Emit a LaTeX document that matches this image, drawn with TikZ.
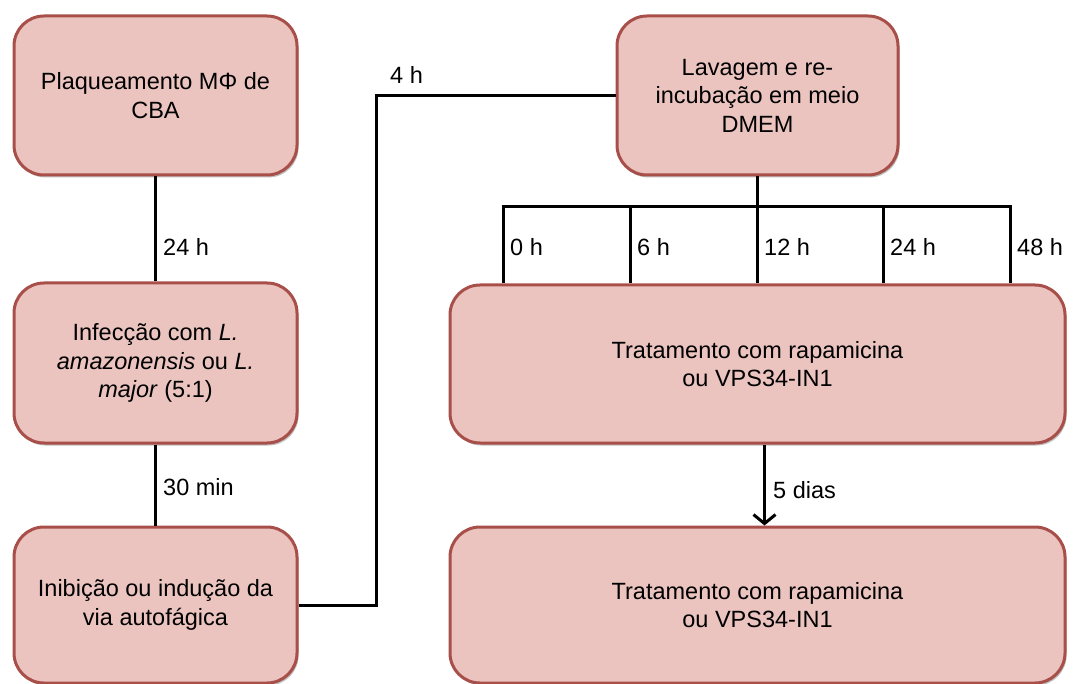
\documentclass[tikz,border=0pt]{standalone}
\usepackage{fontspec}
\setmainfont{Liberation Sans}
\usetikzlibrary{shadows,arrows.meta}
\definecolor{boxfill}{RGB}{235,196,192}
\definecolor{boxedge}{RGB}{168,79,73}
\begin{document}
\begin{tikzpicture}[x=1pt,y=-1pt,
  stepbox/.style={draw=boxedge, line width=3pt, fill=boxfill, rounded corners=30pt,
    align=center, inner sep=4pt,
    drop shadow={opacity=0.25, shadow xshift=1.5pt, shadow yshift=-2.5pt, fill=black}},
  txt/.style={font=\fontsize{23.5}{28.5}\selectfont},
  lbl/.style={txt, anchor=west, inner sep=0pt},
  link/.style={line width=3pt, black}]
\useasboundingbox (0,0) rectangle (1073,684);

% left column
\node[stepbox, txt, minimum width=283pt, minimum height=159pt] (b1) at (155.5,95.5)
  {Plaqueamento MΦ de\\CBA};
\node[stepbox, txt, minimum width=283pt, minimum height=160pt] (b2) at (155.5,363)
  {Infecção com \textit{L.}\\\textit{amazonensis} ou \textit{L.}\\\textit{major} (5:1)};
\node[stepbox, txt, minimum width=283pt, minimum height=156pt] (b3) at (155.5,605)
  {Inibição ou indução da\\via autofágica};

% right column
\node[stepbox, txt, minimum width=281pt, minimum height=159pt] (b4) at (757.5,95.5)
  {Lavagem e re-\\incubação em meio\\DMEM};
\node[stepbox, txt, minimum width=615pt, minimum height=158pt] (b5) at (757.5,364)
  {Tratamento com rapamicina\\ou VPS34-IN1};
\node[stepbox, txt, minimum width=615pt, minimum height=156pt] (b6) at (757.5,605)
  {Tratamento com rapamicina\\ou VPS34-IN1};

% connectors of the left column
\draw[link] (b1.south) -- (b2.north);
\node[lbl] (l24) at (163,247) {24 h};
\draw[link] (b2.south) -- (b3.north);
\node[lbl] (l30) at (163,487) {30 min};

% elbow to the washing step
\coordinate (elb) at (376,605);
\draw[link] (b3.east) -- (elb) |- (b4.west);
\node[lbl] (l4) at (390,75) {4 h};

% time points
\coordinate (t0) at (503,207);
\coordinate (t1) at (630,207);
\coordinate (t2) at (757,207);
\coordinate (t3) at (883,207);
\coordinate (t4) at (1010,207);
\draw[link] (b4.south) -- (b4.south |- t2);
\draw[link] ([xshift=-1.5pt]t0) -- ([xshift=1.5pt]t4);
\foreach \t in {t0,t1,t2,t3,t4}
  \draw[link] (\t) -- (\t |- b5.north);
\node[lbl] (h0) at ([xshift=7pt]t0 |- 0,247) {0 h};
\node[lbl] (h6) at ([xshift=7pt]t1 |- 0,247) {6 h};
\node[lbl] (h12) at ([xshift=7pt]t2 |- 0,247) {12 h};
\node[lbl] (h24) at ([xshift=7pt]t3 |- 0,247) {24 h};
\node[lbl] (h48) at ([xshift=7pt]t4 |- 0,247) {48 h};

% treatment arrow
\draw[link, -{Straight Barb[length=9pt, width=22pt, line width=3pt]}]
  ([xshift=7pt]b5.south) -- ([xshift=7pt]b6.north);
\node[lbl] (l5) at (773,490) {5 dias};
\end{tikzpicture}
\end{document}
